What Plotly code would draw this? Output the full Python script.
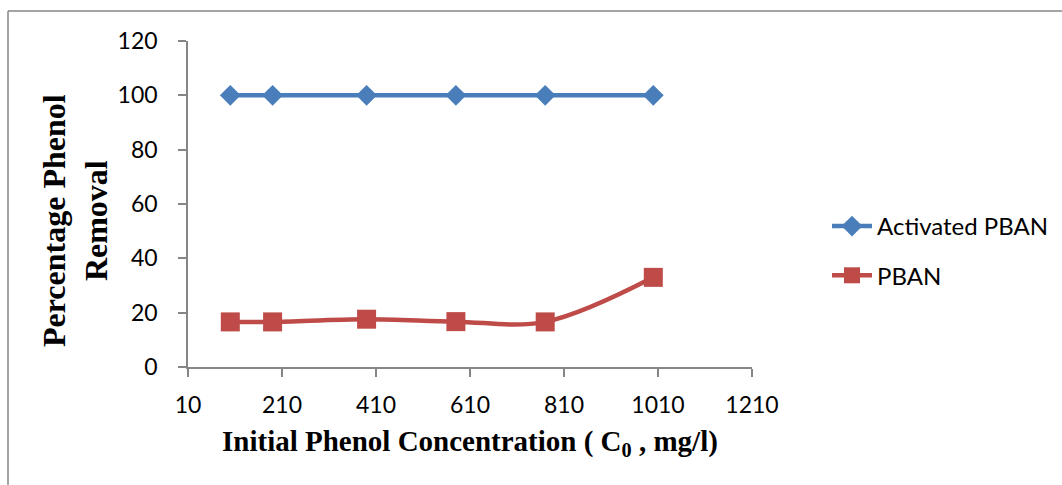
import plotly.graph_objects as go

# Initial phenol concentration (mg/l)
concentration = [100, 190, 390, 580, 770, 1000]
# Percentage phenol removal
activated_pban = [100, 100, 100, 100, 100, 100]
pban = [16.6, 16.6, 17.6, 16.7, 16.6, 33]

x_ticks = [10, 210, 410, 610, 810, 1010, 1210]
y_ticks = [0, 20, 40, 60, 80, 100, 120]

BLUE = "#4A7EBB"
RED = "#BE4B48"
AXIS = "#868686"

fig = go.Figure()
fig.add_trace(go.Scatter(
    x=concentration, y=activated_pban, name="Activated PBAN",
    mode="lines+markers", legendgroup="a",
    line=dict(color=BLUE, width=4.5),
    marker=dict(symbol="diamond", size=16, color=BLUE),
))
fig.add_trace(go.Scatter(
    x=concentration, y=pban, name="PBAN",
    mode="lines+markers", legendgroup="b",
    line=dict(color=RED, width=4.5, shape="spline", smoothing=1),
    marker=dict(symbol="square", size=19, color=RED),
))

L, R, T, B = 188, 310, 41, 118
W, H = 1062, 485
pw, ph = W - L - R, H - T - B


def px(x):
    return (x - L) / pw


def py(y):
    return (H - B - y) / ph


tick_font = dict(family="Lato, Carlito, sans-serif", size=23, color="#000000")
serif = "Liberation Serif, Times New Roman, serif"

fig.update_layout(
    width=W, height=H,
    margin=dict(l=L, r=R, t=T, b=B, pad=0, autoexpand=False),
    paper_bgcolor="white", plot_bgcolor="white",
    showlegend=True,
    legend=dict(
        x=px(827), y=py(204), xanchor="left", yanchor="top",
        font=dict(family="Lato, Carlito, sans-serif", size=24, color="#000000"),
        tracegroupgap=15, bgcolor="rgba(0,0,0,0)",
        traceorder="grouped", itemwidth=40,
    ),
    xaxis=dict(
        range=[10, 1210], tickvals=x_ticks, ticktext=[str(v) for v in x_ticks],
        showgrid=False, zeroline=False, showline=True, linecolor=AXIS, linewidth=1.5,
        ticks="outside", ticklen=8, tickcolor=AXIS, tickwidth=1.5,
        tickfont=tick_font, ticklabelstandoff=9,
    ),
    yaxis=dict(
        range=[0, 120], tickvals=y_ticks, ticktext=[str(v) for v in y_ticks],
        showgrid=False, zeroline=False, showline=True, linecolor=AXIS, linewidth=1.5,
        ticks="outside", ticklen=8, tickcolor=AXIS, tickwidth=1.5,
        tickfont=tick_font, ticklabelstandoff=16,
    ),
    annotations=[
        dict(
            text="<b>Initial Phenol Concentration ( C<sub>0</sub> , mg/l)</b>",
            xref="paper", yref="paper", x=px(470), y=py(443),
            xanchor="center", yanchor="middle", showarrow=False,
            font=dict(family=serif, size=29, color="#000000"),
        ),
        dict(
            text="<b>Percentage Phenol<br>Removal</b>",
            xref="paper", yref="paper", x=px(75), y=py(221),
            xanchor="center", yanchor="middle", showarrow=False, textangle=-90,
            font=dict(family=serif, size=32, color="#000000"),
        ),
    ],
    shapes=[
        dict(type="line", xref="paper", yref="paper",
             x0=px(8), x1=px(1062), y0=py(11), y1=py(11),
             line=dict(color=AXIS, width=1.5)),
        dict(type="line", xref="paper", yref="paper",
             x0=px(8), x1=px(8), y0=py(11), y1=py(485),
             line=dict(color=AXIS, width=1.5)),
    ],
)

fig.write_html("out.html")
